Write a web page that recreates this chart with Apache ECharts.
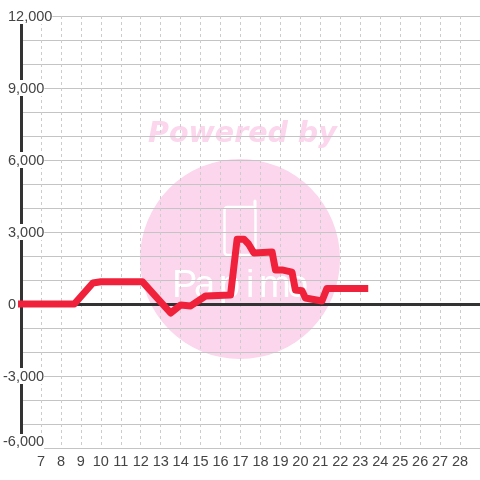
<!DOCTYPE html>
<html>
<head>
<meta charset="utf-8">
<style>
  html, body { margin: 0; padding: 0; background: #fff; }
  #chart { width: 480px; height: 480px; }
</style>
<script src="https://cdn.jsdelivr.net/npm/echarts@6/dist/echarts.min.js"></script>
</head>
<body>
<div id="chart"></div>
<script>
// hours and values
var hours = [5.85, 8.67, 9.6, 10, 12.08, 13.5, 14, 14.5, 15.25, 16.5, 16.83, 17.17, 17.4, 17.67, 18.58, 18.75, 19.08, 19.58, 19.75, 20.08, 20.25, 21.08, 21.33, 23.4];
var values = [0, 0, 875, 930, 930, -375, -40, -80, 333, 375, 2700, 2700, 2500, 2125, 2170, 1420, 1420, 1330, 580, 550, 250, 125, 650, 650];
var yLabels = [-6000, -3000, 0, 3000, 6000, 9000, 12000];

var textColor = "#444";
var fontName = "Liberation Sans";
var pink = "#fbd6ec";

var labelStyle = { color: textColor, fontFamily: fontName, fontSize: 14.5, backgroundColor: "#fff" };

// watermark letters are spaced wide apart
var logoLetters = [["P", 172], ["a", 194], ["p", 219], ["i", 246], ["m", 259], ["o", 287]].map(function (l) {
  return {
    type: "text", z: -9, x: l[1], y: 268,
    style: { text: l[0], fill: "#fff", font: "38px 'Liberation Sans'" }
  };
});

var chart = echarts.init(document.getElementById("chart"));
chart.setOption({
  animation: false,
  grid: { left: 20, right: 0, top: 16, bottom: 32 },
  graphic: [
    { type: "circle", z: -10, shape: { cx: 240, cy: 259, r: 100 }, style: { fill: pink } },
    {
      type: "text", z: -10, x: 148, y: 120,
      style: { text: "Powered by", fill: pink, font: "italic bold 28.5px 'DejaVu Sans'" }
    },
    // phone outline
    {
      type: "rect", z: -9, shape: { x: 224.5, y: 207, width: 31, height: 48, r: 3 },
      style: { fill: "none", stroke: "#fff", lineWidth: 2.5 }
    },
    {
      type: "line", z: -9, shape: { x1: 255, y1: 207, x2: 255, y2: 201 },
      style: { stroke: "#fff", lineWidth: 3, lineCap: "round" }
    }
  ].concat(logoLetters),
  xAxis: [
    {
      type: "value",
      min: 6,
      max: 29,
      interval: 1,
      position: "bottom",
      axisLine: { show: false, onZero: false },
      axisTick: { show: false },
      axisLabel: {
        color: textColor, fontFamily: fontName, fontSize: 14.5, margin: 6,
        showMinLabel: false, showMaxLabel: false
      },
      splitLine: { show: true, lineStyle: { color: "#ccc", width: 1, type: [3, 3] } }
    },
    {
      // the heavy zero line
      type: "value",
      min: 6,
      max: 29,
      position: "top",
      axisLine: { show: true, onZero: true, lineStyle: { color: "#333", width: 3 } },
      axisTick: { show: false },
      axisLabel: { show: false },
      splitLine: { show: false }
    }
  ],
  yAxis: {
    type: "value",
    min: -6000,
    max: 12000,
    interval: 1000,
    axisLine: { show: true, onZero: false, lineStyle: { color: "#333", width: 3 } },
    axisTick: { show: false },
    axisLabel: {
      align: "left",
      margin: 18,
      hideOverlap: false,
      formatter: function (v) {
        if (yLabels.indexOf(v) < 0) return "";
        var s = v.toLocaleString("en-US");
        if (v === yLabels[0]) return "{low|" + s + "}"; // bottom label sits above its line
        return v < 0 ? "{neg|" + s + "}" : "{pos|" + s + "}";
      },
      rich: {
        low: Object.assign({}, labelStyle, { padding: [0, 0, 13, 0] }),
        neg: Object.assign({}, labelStyle, { padding: [1, 0, 0, 0] }),
        pos: Object.assign({}, labelStyle, { padding: [1, 0, 0, 5] })
      }
    },
    splitLine: { show: true, lineStyle: { color: "#c4c4c4", width: 1 } }
  },
  series: [
    {
      type: "line",
      showSymbol: false,
      clip: false,
      data: hours.map(function (h, i) { return [h, values[i]]; }),
      lineStyle: { color: "#f0213a", width: 7, cap: "butt", join: "round" }
    }
  ]
});
</script>
</body>
</html>
